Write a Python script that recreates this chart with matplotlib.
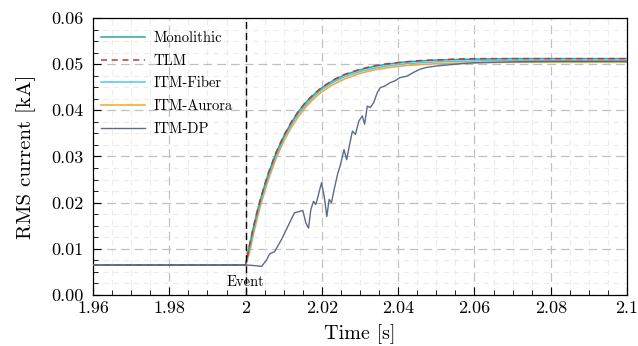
import numpy as np
import matplotlib
matplotlib.use("Agg")
import matplotlib.pyplot as plt
import matplotlib.ticker as mticker

plt.rcParams["font.family"] = ["cmr10", "DejaVu Sans"]
plt.rcParams["mathtext.fontset"] = "cm"
plt.rcParams["axes.formatter.use_mathtext"] = True
plt.rcParams["axes.unicode_minus"] = False

# Time grid for the smooth responses (s)
t_smooth = [1.96, 1.98, 2.0, 2.001, 2.002, 2.003, 2.004, 2.005, 2.006, 2.008,
            2.010, 2.012, 2.014, 2.016, 2.018, 2.020, 2.023, 2.026, 2.030,
            2.034, 2.038, 2.042, 2.046, 2.050, 2.055, 2.060, 2.070, 2.080,
            2.090, 2.100]

# RMS current (kA)
monolithic = [0.0065, 0.0065, 0.0065, 0.0107, 0.0145, 0.0179, 0.0210, 0.0238,
              0.0264, 0.0308, 0.0344, 0.0374, 0.0399, 0.0419, 0.0435, 0.0449,
              0.0465, 0.0477, 0.0488, 0.0496, 0.0501, 0.0505, 0.0507, 0.0509,
              0.0510, 0.0511, 0.0512, 0.0512, 0.0512, 0.0512]
tlm = [0.0065, 0.0065, 0.0065, 0.0107, 0.0146, 0.0180, 0.0211, 0.0239,
       0.0265, 0.0309, 0.0345, 0.0375, 0.0400, 0.0420, 0.0436, 0.0450,
       0.0466, 0.0478, 0.0489, 0.0497, 0.0502, 0.0505, 0.0508, 0.0509,
       0.0511, 0.0512, 0.0512, 0.0512, 0.0512, 0.0512]
itm_fiber = [0.0065, 0.0065, 0.0065, 0.0099, 0.0137, 0.0172, 0.0203, 0.0231,
             0.0257, 0.0302, 0.0339, 0.0369, 0.0394, 0.0414, 0.0431, 0.0445,
             0.0461, 0.0473, 0.0484, 0.0492, 0.0497, 0.0501, 0.0503, 0.0505,
             0.0506, 0.0507, 0.0508, 0.0508, 0.0508, 0.0508]
itm_aurora = [0.0065, 0.0065, 0.0065, 0.0090, 0.0129, 0.0164, 0.0196, 0.0224,
              0.0250, 0.0296, 0.0333, 0.0363, 0.0388, 0.0409, 0.0426, 0.0440,
              0.0456, 0.0468, 0.0480, 0.0488, 0.0493, 0.0497, 0.0499, 0.0501,
              0.0502, 0.0503, 0.0504, 0.0504, 0.0504, 0.0504]

# ITM-DP (noisy, delayed)
t_dp = [1.96, 1.98, 2.0, 2.002, 2.0042, 2.0055, 2.0063, 2.0076, 2.0094, 2.0111,
        2.0128, 2.0141, 2.015, 2.0158, 2.0165, 2.0171, 2.0178, 2.0184, 2.019,
        2.0199, 2.0206, 2.0213, 2.0219, 2.0225, 2.0232, 2.0241, 2.0249, 2.0258,
        2.0265, 2.0271, 2.028, 2.0288, 2.0297, 2.0306, 2.0312, 2.0319, 2.0327,
        2.0336, 2.0345, 2.0353, 2.0366, 2.0379, 2.0392, 2.0405, 2.0423, 2.044,
        2.0457, 2.0475, 2.05, 2.055, 2.06, 2.07, 2.08, 2.09, 2.1]
itm_dp = [0.0065, 0.0065, 0.0065, 0.0064, 0.0062, 0.0076, 0.0089, 0.0094,
          0.0120, 0.0149, 0.0178, 0.0181, 0.0183, 0.0156, 0.0145, 0.0185,
          0.0203, 0.0196, 0.0214, 0.0243, 0.0214, 0.0170, 0.0207, 0.0200,
          0.0228, 0.0261, 0.0283, 0.0315, 0.0293, 0.0319, 0.0355, 0.0348,
          0.0377, 0.0388, 0.0370, 0.0409, 0.0406, 0.0417, 0.0438, 0.0449,
          0.0453, 0.0460, 0.0464, 0.0471, 0.0474, 0.0482, 0.0489, 0.0493,
          0.0496, 0.0500, 0.0503, 0.0505, 0.0506, 0.0506, 0.0506]

event_time = 2.0
x_ticks = [1.96, 1.98, 2.0, 2.02, 2.04, 2.06, 2.08, 2.1]
x_labels = ["1.96", "1.98", "2", "2.02", "2.04", "2.06", "2.08", "2.1"]

fig = plt.figure(figsize=(6.38, 3.46), dpi=100)
ax = fig.add_axes([0.1458, 0.1474, 0.8370, 0.8006])

ax.plot(t_smooth, monolithic, color="#26a99a", lw=1.1, label="Monolithic", zorder=4)
ax.plot(t_smooth, tlm, color="#c0392b", lw=1.1, ls=(0, (4, 3)), label="TLM", zorder=5)
ax.plot(t_smooth, itm_fiber, color="#4fc3f7", lw=1.1, label="ITM-Fiber", zorder=3)
ax.plot(t_smooth, itm_aurora, color="#f5a623", lw=1.1, label="ITM-Aurora", zorder=2)
ax.plot(t_dp, itm_dp, color="#5d6a8a", lw=1.0, label="ITM-DP", zorder=6)

ax.axvline(event_time, color="black", lw=1.0, ls=(0, (5, 3)), zorder=7)
ax.text(event_time, 0.0028, "Event", ha="center", va="center", fontsize=10.5)

ax.set_xlim(1.96, 2.1)
ax.set_ylim(0, 0.06)
ax.set_xticks(x_ticks)
ax.set_xticklabels(x_labels)
ax.xaxis.set_minor_locator(mticker.MultipleLocator(0.005))
ax.yaxis.set_major_locator(mticker.MultipleLocator(0.01))
ax.yaxis.set_minor_locator(mticker.MultipleLocator(0.0025))
ax.yaxis.set_major_formatter(mticker.FormatStrFormatter("%.2f"))

ax.tick_params(which="both", direction="in", labelsize=13)
ax.tick_params(which="major", length=6, width=0.8)
ax.tick_params(which="minor", length=3.5, width=0.6)
ax.tick_params(axis="x", which="major", pad=4)
ax.tick_params(axis="y", which="major", pad=7)

ax.grid(which="major", color="#c0c0c0", ls=(0, (7, 4)), lw=0.9)
ax.grid(which="minor", color="#ececec", ls=(0, (5, 4)), lw=0.8)
ax.set_axisbelow(True)

for spine in ax.spines.values():
    spine.set_linewidth(0.9)

ax.set_xlabel("Time [s]", fontsize=14.5, labelpad=6)
ax.set_ylabel("RMS current [kA]", fontsize=15, labelpad=11)

ax.legend(loc="upper left", bbox_to_anchor=(0.0075, 0.968), frameon=False,
          fontsize=10.5, handlelength=3.0, handletextpad=0.6,
          labelspacing=0.62, borderaxespad=0.0, borderpad=0.3)

fig.savefig("out.png", dpi=100)
